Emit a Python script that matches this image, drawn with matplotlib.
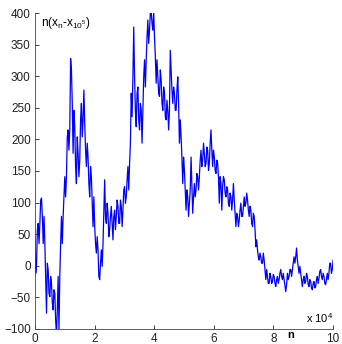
import numpy as np
import matplotlib
matplotlib.use("Agg")
import matplotlib.pyplot as plt

plt.rcParams['font.family'] = ['Liberation Sans', 'DejaVu Sans']
plt.rcParams['mathtext.fontset'] = 'custom'
plt.rcParams['mathtext.rm'] = 'Liberation Sans'
plt.rcParams['mathtext.it'] = 'Liberation Sans'

# running deviation n*(x_n - x_1e5), sampled on an even grid n = 0 .. 1e5
# each sample keeps the upper and lower edge of the band traced by the walk
upper = [46, 57, 67, 104, 107, 78, 35, 4, -7, -17, -28, -38, -44, -70, -17, 35, 78, 109, 141, 204,
         215, 328, 310, 246, 220, 204, 178, 231, 257, 278, 225, 194, 172, 157, 141, 109, 62, 46, 25, 4,
         25, 88, 136, 99, 83, 78, 94, 78, 88, 104, 94, 104, 94, 120, 125, 136, 157, 194, 273, 378,
         299, 273, 283, 257, 246, 299, 326, 362, 389, 400, 402, 402, 362, 326, 299, 310, 294, 283, 273, 262,
         246, 341, 310, 283, 273, 278, 299, 231, 204, 172, 151, 120, 109, 120, 172, 109, 130, 146, 141, 167,
         183, 194, 178, 188, 183, 194, 215, 183, 172, 167, 162, 141, 130, 141, 136, 125, 120, 115, 109, 130,
         104, 83, 78, 88, 99, 94, 109, 115, 104, 94, 88, 83, 78, 41, 25, 20, 14, 20, 9, -6,
         -17, -12, -17, -14, -17, -22, -17, -12, -6, -12, -22, -30, -12, -6, -6, 4, 14, 28, 9, -1,
         -12, -22, -17, -12, -17, -22, -25, -28, -25, -22, -17, -9, -6, -12, -17, -22, -12, 4, 4, 9]
lower = [-12, 4, 35, 67, 78, 35, -17, -75, -44, -49, -59, -70, -86, -110, -101, -17, 35, 78, 109, 141,
         183, 215, 257, 178, 157, 130, 141, 167, 204, 231, 183, 157, 130, 109, 99, 62, 35, 20, -17, -22,
         -1, 35, 78, 67, 46, 57, 67, 41, 57, 78, 67, 67, 62, 88, 99, 109, 120, 162, 236, 299,
         246, 220, 231, 215, 194, 246, 283, 326, 352, 373, 384, 373, 331, 289, 273, 268, 257, 246, 236, 231,
         215, 246, 278, 257, 246, 246, 257, 194, 172, 130, 120, 88, 78, 99, 130, 83, 109, 120, 120, 141,
         157, 167, 157, 162, 151, 162, 183, 157, 151, 146, 141, 99, 88, 125, 115, 109, 99, 94, 88, 104,
         83, 62, 62, 72, 78, 78, 94, 99, 88, 78, 67, 62, 57, 30, 14, 9, 4, 4, -6, -22,
         -28, -28, -28, -25, -28, -33, -28, -22, -17, -22, -33, -41, -22, -17, -17, -6, 4, 14, -1, -12,
         -22, -33, -28, -25, -30, -33, -35, -38, -35, -33, -28, -20, -17, -22, -28, -30, -22, -12, -12, -6]

x_ticks = [0, 2, 4, 6, 8, 10]
y_ticks = [-100, -50, 0, 50, 100, 150, 200, 250, 300, 350, 400]

# zigzag through the band: top-bottom, bottom-top, ...
path = []
for i, (u, l) in enumerate(zip(upper, lower)):
    path += [u, l] if i % 2 == 0 else [l, u]
path = np.array(path, dtype=float)
n = np.linspace(0, 10, len(path))

fig = plt.figure(figsize=(3.42, 3.44), dpi=100)
ax = fig.add_axes([0.102, 0.044, 0.872, 0.918])
ax.plot(n, path, color='#0000ff', lw=0.9)

ax.set_xlim(0, 10)
ax.set_ylim(-100, 400)
ax.set_xticks(x_ticks)
ax.set_yticks(y_ticks)
ax.tick_params(direction='in', length=3, width=0.6, labelsize=8.5, pad=3, colors='#222222')
for side in ['top', 'right']:
    ax.spines[side].set_visible(False)
for side in ['left', 'bottom']:
    ax.spines[side].set_linewidth(0.6)
    ax.spines[side].set_color('#444444')

ax.text(0.02, 0.995, r'n(x$_\mathregular{n}$-x$_{\mathregular{10^5}}$)', transform=ax.transAxes,
        ha='left', va='top', fontsize=8.5)
ax.text(1.0, 0.035, r'x 10$^\mathregular{4}$', transform=ax.transAxes,
        ha='right', va='center', fontsize=8)
ax.text(0.858, -0.021, 'n', transform=ax.transAxes, ha='center', va='center',
        fontsize=8, fontweight='bold')

fig.savefig('out.png', dpi=100)
